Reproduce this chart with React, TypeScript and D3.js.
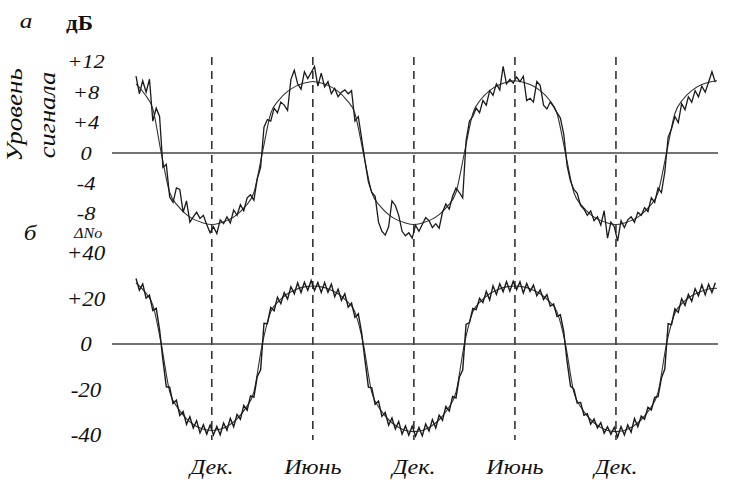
import React from "react";
import * as d3 from "d3";

// months are counted from the first December mark
const seasonMonths = [0, 6, 12, 18, 24];
const seasonLabels = ["Дек.", "Июнь", "Дек.", "Июнь", "Дек."];

const levelTicks = [12, 8, 4, 0, -4, -8];
const ndTicks = [40, 20, 0, -20, -40];

// smoothed curves, one value every half month from -4.5
const smoothStart = -4.5;
const smoothStep = 0.5;
const levelSmooth = [
  9.1, 7.8, 5.8, 0,
  -5.2, -7.0, -8.1, -8.8, -9.2, -9.4, -9.2, -8.8, -8.1, -7.0, -5.2, 0,
  5.2, 7.0, 8.1, 8.8, 9.2, 9.4, 9.2, 8.8, 8.1, 7.0, 5.2, 0,
  -5.2, -7.0, -8.1, -8.8, -9.2, -9.4, -9.2, -8.8, -8.1, -7.0, -5.2, 0,
  5.2, 7.1, 8.2, 8.9, 9.3, 9.5, 9.3, 8.9, 8.2, 7.1, 5.2, 0,
  -5.2, -7.0, -8.1, -8.8, -9.2, -9.4, -9.2, -8.8, -8.1, -7.0, -5.2, 0,
  5.2, 7.1, 8.2, 8.9, 9.3, 9.5,
];
const ndSmooth = [
  26.8, 23.1, 17.1, 0,
  -21.0, -28.3, -32.9, -35.8, -37.5, -38.0, -37.5, -35.8, -32.9, -28.3, -21.0, 0,
  14.1, 19.0, 22.1, 24.0, 25.1, 25.5, 25.1, 24.0, 22.1, 19.0, 14.1, 0,
  -21.3, -28.7, -33.3, -36.3, -38.0, -38.5, -38.0, -36.3, -33.3, -28.7, -21.3, 0,
  14.1, 19.0, 22.1, 24.0, 25.1, 25.5, 25.1, 24.0, 22.1, 19.0, 14.1, 0,
  -21.3, -28.7, -33.3, -36.3, -38.0, -38.5, -38.0, -36.3, -33.3, -28.7, -21.3, 0,
  13.5, 18.3, 21.2, 23.0, 24.2, 24.5,
];

// measured series, one value every 0.2 month from -4.5
const rawStart = -4.5;
const rawStep = 0.2;
const levelRaw = [
  10.1, 7.8, 9.5, 8.0, 9.7, 4.2, 5.9, 4.8,
  -1.9, -1.5, -5.8, -6.5, -4.6, -4.8, -7.8, -6.3, -9.1, -8.4, -7.8, -8.6, -8.2, -9.4, -10.5,
  -9.7, -10.6, -8.8, -9.3, -8.4, -9.2, -7.5, -8.2, -6.8, -7.6, -5.9, -5.5, -6.2, -3.4, -1.9,
  3.4, 4.4, 4.2, 5.9, 5.3, 6.7, 6.3, 5.6, 9.7, 10.9, 9.1, 8.4, 10.7, 9.8, 10.6,
  11.4, 8.8, 10.5, 8.7, 9.4, 7.8, 8.5, 7.4, 8.0, 8.3, 7.8, 8.2, 4.2, 4.8, 1.9,
  -1.1, -3.8, -5.2, -5.7, -9.1, -10.3, -10.8, -9.7, -6.3, -6.9, -8.2, -10.3, -10.9, -10.5, -11.2,
  -9.5, -10.3, -9.4, -8.5, -8.9, -9.8, -9.3, -9.9, -7.8, -6.7, -7.4, -5.7, -4.6, -5.2, -5.9,
  1.6, 4.2, 4.8, 5.9, 5.3, 6.9, 6.3, 8.2, 7.6, 9.1, 8.3, 11.4, 9.1, 9.7, 9.2,
  10.0, 9.4, 10.1, 6.9, 7.2, 6.7, 9.4, 8.9, 6.3, 5.8, 6.7, 6.1, 5.3, 4.6, 2.5,
  -1.7, -3.7, -4.8, -5.3, -6.9, -7.4, -8.2, -7.6, -8.9, -8.4, -9.5, -7.6, -11.2, -9.1, -9.7,
  -11.6, -8.9, -9.8, -8.8, -8.4, -9.1, -7.8, -8.2, -7.2, -7.7, -5.9, -6.5, -4.6, -5.2, -2.5,
  2.1, 3.2, 4.8, 4.0, 6.5, 5.7, 7.4, 6.7, 8.2, 7.4, 8.8, 8.0, 9.3, 10.7, 9.3,
];
const ndRaw = [
  28.8, 23.7, 26.4, 20.1, 21.5, 14.7, 15.7, 6.3,
  -7.1, -18.8, -19.0, -26.2, -24.7, -31.4, -29.7, -35.3, -32.0, -36.9, -33.7, -39.1, -35.5, -39.6, -35.6,
  -40.0, -36.2, -39.9, -34.7, -37.9, -32.7, -36.4, -30.9, -33.1, -27.0, -29.1, -22.8, -23.4, -14.4, -11.3,
  9.1, 8.9, 16.1, 14.6, 20.6, 17.7, 22.6, 19.7, 25.2, 22.1, 26.9, 22.6, 27.1, 23.6, 27.9,
  23.5, 27.0, 22.7, 27.0, 22.7, 26.3, 20.8, 24.1, 19.2, 22.1, 16.2, 18.0, 11.7, 13.3, 4.9,
  -7.3, -19.0, -19.3, -26.5, -25.1, -31.8, -30.1, -35.7, -32.5, -37.4, -34.1, -39.6, -36.0, -40.1, -36.1,
  -40.5, -36.7, -40.4, -35.2, -38.3, -33.2, -36.9, -31.3, -33.5, -27.4, -29.5, -23.1, -23.7, -14.6, -11.5,
  8.6, 9.4, 15.6, 15.1, 20.1, 18.2, 23.1, 19.4, 25.6, 21.8, 26.5, 23.0, 27.4, 23.2, 27.6,
  23.9, 27.3, 22.4, 26.6, 23.1, 25.9, 21.2, 23.8, 19.6, 21.7, 16.6, 17.6, 12.1, 12.8, 5.4,
  -7.8, -18.5, -19.8, -26.0, -25.6, -31.3, -30.6, -35.2, -33.0, -36.9, -34.6, -39.2, -36.4, -39.7, -36.6,
  -40.9, -36.3, -40.0, -35.6, -38.8, -32.8, -36.4, -31.7, -33.1, -27.8, -29.0, -23.5, -23.2, -15.0, -11.0,
  8.9, 8.5, 15.5, 13.9, 19.9, 17.0, 21.8, 18.8, 24.3, 21.2, 26.0, 21.6, 26.2, 22.6, 26.9,
];

const serif = "'Liberation Serif', 'Times New Roman', serif";

function Label(props: any) {
  const { x, y, size, italic = true, bold = false, rotate = false, anchor = "middle", children } = props;
  // the scanned figure is a bit wider than the font, hence the stretch
  const tr = rotate
    ? `translate(${x},${y}) rotate(-90) scale(1.15,1)`
    : `translate(${x},${y}) scale(1.15,1)`;
  return (
    <text
      transform={tr}
      textAnchor={anchor}
      fontFamily={serif}
      fontSize={size}
      fontStyle={italic ? "italic" : "normal"}
      fontWeight={bold ? 700 : 400}
      fill="#111"
    >
      {children}
    </text>
  );
}

export default function App() {
  const x = d3.scaleLinear().domain([-4.5, 30]).range([136, 717]);
  const yTop = d3.scaleLinear().domain([-12, 12]).range([244.2, 61.8]);
  const yBot = d3.scaleLinear().domain([-40, 40]).range([435, 253]);

  const path = (vals: number[], start: number, step: number, y: any, curve: any) =>
    d3
      .line<number>()
      .x((_, i) => x(start + i * step))
      .y((d) => y(d))
      .curve(curve)(vals) || "";

  const fmt = (d: number) => (d > 0 ? `+${d}` : `${d}`);

  return (
    <svg
      width={738}
      height={483}
      style={{ position: "absolute", left: 0, top: 0, background: "#fff" }}
    >
      <rect width={738} height={483} fill="#fff" />

      {/* season marks */}
      {seasonMonths.map((m, i) => (
        <line
          key={"d" + i}
          x1={x(m)}
          x2={x(m)}
          y1={57}
          y2={440}
          stroke="#333"
          strokeWidth={1.6}
          strokeDasharray="8,6"
        />
      ))}

      {/* zero lines */}
      <line x1={112} x2={718} y1={yTop(0)} y2={yTop(0)} stroke="#444" strokeWidth={1.6} />
      <line x1={112} x2={718} y1={yBot(0)} y2={yBot(0)} stroke="#444" strokeWidth={1.6} />

      {/* panel а */}
      <path d={path(levelSmooth, smoothStart, smoothStep, yTop, d3.curveMonotoneX)} fill="none" stroke="#333" strokeWidth={1.1} />
      <path d={path(levelRaw, rawStart, rawStep, yTop, d3.curveLinear)} fill="none" stroke="#1a1a1a" strokeWidth={1.3} />

      {/* panel б */}
      <path d={path(ndSmooth, smoothStart, smoothStep, yBot, d3.curveMonotoneX)} fill="none" stroke="#333" strokeWidth={1.1} />
      <path d={path(ndRaw, rawStart, rawStep, yBot, d3.curveLinear)} fill="none" stroke="#1a1a1a" strokeWidth={1.4} />

      {/* tick labels */}
      {levelTicks.map((t) => (
        <Label key={"lt" + t} x={86} y={yTop(t) + 6.5} size={19.5}>
          {fmt(t)}
        </Label>
      ))}
      {ndTicks.map((t) => (
        <Label key={"nt" + t} x={86} y={yBot(t) + 7} size={20}>
          {fmt(t)}
        </Label>
      ))}

      {/* month labels */}
      {seasonMonths.map((m, i) => (
        <Label key={"s" + i} x={x(m)} y={474} size={21}>
          {seasonLabels[i]}
        </Label>
      ))}

      {/* titles */}
      <Label x={26} y={28} size={22}>а</Label>
      <Label x={66} y={30} size={20} italic={false} bold anchor="start">дБ</Label>
      <Label x={22} y={115} size={23.5} rotate>Уровень</Label>
      <Label x={55} y={115} size={23} rotate>сигнала</Label>
      <Label x={30} y={240} size={22}>б</Label>
      <Label x={74} y={238} size={14} anchor="start">ΔNo</Label>
    </svg>
  );
}
